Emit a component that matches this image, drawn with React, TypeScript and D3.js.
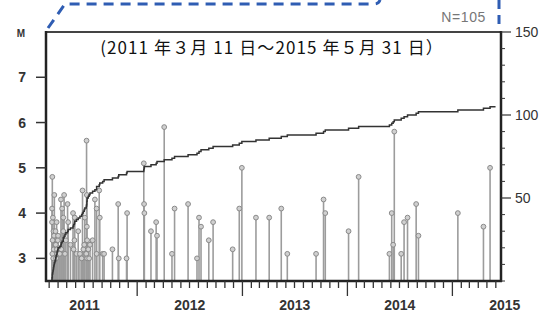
import React from "react";
import * as d3 from "d3";

// ---- data ----
const eventDates: string[] = [
  "2011-03-11","2011-03-11","2011-03-12","2011-03-12","2011-03-13","2011-03-14","2011-03-15","2011-03-16","2011-03-17","2011-03-18","2011-03-19","2011-03-21",
  "2011-03-23","2011-03-24","2011-03-25","2011-03-27","2011-03-28","2011-03-29","2011-03-31","2011-04-01",
  "2011-04-07","2011-04-11","2011-04-12","2011-04-15","2011-04-19","2011-04-19",
  "2011-04-22","2011-04-25","2011-04-28",
  "2011-05-04","2011-05-06","2011-05-14",
  "2011-05-23","2011-05-25","2011-05-28","2011-05-29",
  "2011-06-04","2011-06-10","2011-06-16",
  "2011-06-22","2011-06-25","2011-06-28","2011-07-01","2011-07-03",
  "2011-07-08","2011-07-09","2011-07-10","2011-07-10","2011-07-11","2011-07-11",
  "2011-07-15","2011-07-18","2011-07-21",
  "2011-07-30","2011-08-07","2011-08-13","2011-08-13","2011-08-22","2011-08-24",
  "2011-09-03","2011-09-08",
  "2011-10-07","2011-10-27","2011-10-29","2011-11-25","2011-11-27",
  "2012-01-24","2012-01-25","2012-01-26","2012-02-18","2012-03-07","2012-03-10","2012-04-04","2012-05-01","2012-05-10",
  "2012-06-26","2012-07-27","2012-08-03","2012-08-10","2012-09-06","2012-09-21","2012-11-28","2012-12-21","2012-12-30",
  "2013-02-17","2013-04-04","2013-05-16","2013-06-06","2013-09-14","2013-10-10","2013-10-16",
  "2014-01-05","2014-02-09","2014-05-27","2014-06-04","2014-06-09","2014-06-13","2014-07-07","2014-07-17","2014-07-29","2014-08-28","2014-09-05",
  "2015-01-20","2015-04-19","2015-05-12",
];
const eventMagnitudes: number[] = [
  4.1,3.8,4.8,3.1,3.4,3.9,3.0,3.6,3.2,3.5,4.4,3.3,
  3.6,3.3,3.0,3.8,3.2,3.1,3.4,3.5,
  3.1,4.3,3.2,4.1,3.9,3.6,
  4.4,3.1,3.4,
  4.2,3.8,3.3,
  4.0,3.2,3.4,3.9,
  3.1,3.6,3.1,
  3.0,4.5,3.2,3.3,3.9,
  3.1,5.6,4.4,3.7,3.4,3.0,
  3.2,3.0,3.3,
  3.4,4.3,3.1,4.1,4.5,3.9,
  3.1,3.1,
  3.2,4.2,3.0,3.0,4.0,
  5.1,4.2,4.0,3.6,3.8,3.5,5.9,3.1,4.1,
  4.2,3.0,3.9,3.7,3.4,3.8,3.2,4.1,5.0,
  3.9,3.9,4.1,3.1,3.1,4.3,4.0,
  3.6,4.8,3.1,4.0,3.3,5.8,3.1,3.8,3.9,4.2,3.5,
  4.0,3.7,5.0,
];
const periodStart = "2011-03-11";
const periodEnd = "2015-05-31";
const magTicks = [3, 4, 5, 6, 7];
const countMajorTicks = [50, 100, 150];
const yearLabels = [2011, 2012, 2013, 2014, 2015];
const titleText = "(2011 年３月 11 日～2015 年５月 31 日）";
const countLabel = "N=105";

const parse = d3.timeParse("%Y-%m-%d");

export default function App() {
  const W = 554, H = 314;
  const left = 46, right = 501, top = 32, bottom = 281;
  const domainStart = new Date(2011, 1, 18);
  const domainEnd = new Date(2015, 5, 19);
  const x = d3.scaleTime().domain([domainStart, domainEnd]).range([left, right]);
  const yM = d3.scaleLinear().domain([2.5, 8]).range([bottom, top]);
  const yN = d3.scaleLinear().domain([0, 150]).range([bottom, top]);

  const events = eventDates.map((d, i) => ({ date: parse(d)!, mag: eventMagnitudes[i] }));
  const cum: [Date, number][] = [[parse(periodStart)!, 0]];
  events.forEach((e, i) => cum.push([e.date, i + 1]));
  cum.push([parse(periodEnd)!, events.length]);
  const line = d3.line<[Date, number]>()
    .x(d => x(d[0]))
    .y(d => yN(d[1]))
    .curve(d3.curveStepAfter);

  const monthTicks = d3.timeMonth.range(domainStart, domainEnd).filter(d => d.getMonth() !== 0);
  const yearTicks = d3.timeYear.range(domainStart, domainEnd);
  const minorCount = d3.range(0, 151, 10).filter(v => !countMajorTicks.includes(v));

  const font = "'Liberation Sans', Arial, sans-serif";
  const blue = "#2f5db3";

  return (
    <svg width={W} height={H} style={{ position: "absolute", left: 0, top: 0, background: "#fff" }}>
      {/* blue callout dashes */}
      <path d={`M48,28 L65,4 L374,4 Q379,4 380,0`} fill="none" stroke={blue} strokeWidth={3} strokeDasharray="10,7" />
      <line x1={499} x2={499} y1={0} y2={30} stroke={blue} strokeWidth={3} strokeDasharray="9,6" />

      {/* stems */}
      {events.map((e, i) => (
        <line key={"s" + i} x1={x(e.date)} x2={x(e.date)} y1={bottom} y2={yM(e.mag)} stroke="#9c9c9c" strokeWidth={1.6} />
      ))}
      {events.map((e, i) => (
        <circle key={"c" + i} cx={x(e.date)} cy={yM(e.mag)} r={2.4} fill="#d0d0d0" stroke="#8a8a8a" strokeWidth={1} />
      ))}

      {/* cumulative */}
      <path d={line(cum) || ""} fill="none" stroke="#333" strokeWidth={1.5} />

      {/* frame */}
      <line x1={left} x2={right} y1={top} y2={top} stroke="#444" strokeWidth={2} />
      <line x1={left} x2={left} y1={top - 1} y2={bottom + 1} stroke="#222" strokeWidth={2.5} />
      <line x1={right} x2={right} y1={top - 1} y2={bottom + 1} stroke="#222" strokeWidth={2.5} />
      <line x1={left - 1} x2={right + 1} y1={bottom} y2={bottom} stroke="#222" strokeWidth={2.5} />

      {/* left axis */}
      {magTicks.map(t => (
        <g key={"m" + t}>
          <line x1={left - 10} x2={left} y1={yM(t)} y2={yM(t)} stroke="#333" strokeWidth={1.5} />
          <text x={26} y={yM(t)} dy="0.36em" textAnchor="end" fontFamily={font} fontWeight="bold" fontSize={14} fill="#333">{t}</text>
        </g>
      ))}
      <text x={21} y={33} dy="0.36em" textAnchor="middle" fontFamily={font} fontWeight="bold" fontSize={10} fill="#333">M</text>

      {/* right axis */}
      {minorCount.map(t => (
        <line key={"n" + t} x1={right} x2={right + 4} y1={yN(t)} y2={yN(t)} stroke="#333" strokeWidth={1} />
      ))}
      {countMajorTicks.map(t => (
        <g key={"N" + t}>
          <line x1={right} x2={right + 10} y1={yN(t)} y2={yN(t)} stroke="#333" strokeWidth={1.2} />
          <text x={515} y={yN(t)} dy="0.36em" textAnchor="start" fontFamily={font} fontSize={14} fill="#333">{t}</text>
        </g>
      ))}

      {/* bottom axis */}
      {monthTicks.map((d, i) => (
        <line key={"mt" + i} x1={x(d)} x2={x(d)} y1={bottom} y2={bottom + 7} stroke="#333" strokeWidth={1.3} />
      ))}
      {yearTicks.map((d, i) => (
        <line key={"yt" + i} x1={x(d)} x2={x(d)} y1={bottom} y2={bottom + 15} stroke="#333" strokeWidth={1.3} />
      ))}
      {yearLabels.map(yr => (
        <text key={"yl" + yr} x={x(new Date(yr, 6, 2))} y={310} textAnchor="middle" fontFamily={font} fontWeight="bold" fontSize={14} fill="#333">{yr}</text>
      ))}

      {/* texts */}
      <text x={272} y={54} textAnchor="middle" fontFamily="'Noto Sans CJK JP', sans-serif" fontSize={17} letterSpacing={1.1} fill="#111">{titleText}</text>
      <text x={486} y={22} textAnchor="end" fontFamily={font} fontSize={14} letterSpacing={0.6} fill="#777">{countLabel}</text>
    </svg>
  );
}
